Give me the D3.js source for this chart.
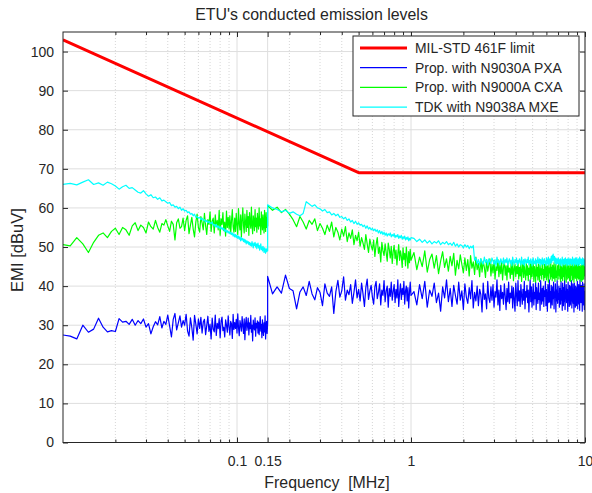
<!DOCTYPE html>
<html>
<head>
<meta charset="utf-8">
<script src="https://cdn.jsdelivr.net/npm/d3@7"></script>
<style>
  body { margin: 0; background: #fff; }
  svg text { font-family: "Liberation Sans", Arial, Helvetica, sans-serif; fill: #262626; white-space: pre; }
</style>
</head>
<body>
<div id="chart"></div>
<script>
// MIL-STD 461F limit line
var limitFreq = [0.01, 0.5, 10];
var limitLevel = [103, 69, 69];

// analyzer sweep grids (MHz): band A, band B low part, band B high part
var sweepA = { start: 0.010, step: 0.001 };
var sweepB1 = { start: 0.15, step: 0.01 };
var sweepB2 = { start: 1.04, step: 0.04 };

var xTickValues = [0.1, 0.15, 1, 10];
var xMinorValues = [0.02, 0.03, 0.04, 0.05, 0.06, 0.07, 0.08, 0.09, 0.2, 0.3, 0.4, 0.5, 0.6, 0.7, 0.8, 0.9, 2, 3, 4, 5, 6, 7, 8, 9];
var yTickValues = [0, 10, 20, 30, 40, 50, 60, 70, 80, 90, 100];

var seriesNames = ["MIL-STD 461F limit", "Prop. with N9030A PXA", "Prop. with N9000A CXA", "TDK with N9038A MXE"];
var seriesColors = ["#ff0000", "#0000ff", "#00ff00", "#00ffff"];

// Prop. with N9030A PXA (dBuV)
var pxaA = [
  27.5, 27.2, 26.5, 30.0, 28.2, 29.0, 31.8, 29.5, 28.3, 28.6,
  28.4, 31.7, 30.8, 31.0, 30.2, 31.5, 30.0, 31.2, 30.4, 31.6,
  29.5, 30.4, 27.8, 29.6, 30.9, 30.1, 32.2, 29.3, 31.0, 30.2,
  32.6, 29.8, 27.0, 31.5, 33.0, 28.8, 30.6, 32.4, 29.5, 31.2,
  30.0, 32.8, 28.5, 27.2, 31.9, 29.4, 26.2, 32.5, 30.3, 27.8,
  31.6, 29.2, 32.0, 28.0, 30.8, 31.5, 27.6, 29.9, 32.3, 28.4,
  30.2, 26.5, 31.8, 29.0, 28.3, 32.6, 27.4, 30.5, 29.1, 31.7,
  26.8, 30.9, 32.1, 28.6, 29.5, 27.0, 31.4, 30.0, 28.2, 32.4,
  29.6, 27.5, 31.0, 30.3, 26.6, 32.8, 28.9, 30.7, 29.2, 31.5,
  28.0, 32.9, 29.4, 27.3, 31.2, 30.0, 28.5, 32.2, 29.8, 27.9,
  31.6, 26.3, 30.4, 32.0, 28.7, 29.9, 31.8, 27.5, 30.6, 29.1,
  32.5, 28.2, 30.0, 26.0, 31.3, 29.6, 28.8, 31.9, 27.2, 30.5,
  29.3, 31.1, 28.0, 30.8, 27.6, 29.9, 32.2, 28.5, 30.2, 26.8,
  31.4, 29.0, 27.4, 30.6, 28.3, 32.4, 26.5, 29.8, 31.0, 27.9,
  30.5
];
var pxaB1 = [
  42.5, 38.0, 39.8, 38.2, 42.8,
  39.4, 38.8, 34.2, 38.5, 39.8, 37.6, 41.2, 38.0, 36.5, 39.6,
  38.4, 35.0, 40.6, 38.2, 37.4, 39.8, 33.0, 38.6, 41.5, 37.2,
  38.8, 42.4, 36.4, 39.0, 37.8, 40.4, 35.6, 38.4, 41.6, 37.0,
  39.2, 36.2, 40.8, 38.0, 34.8, 39.6, 41.8, 36.6, 38.8, 40.2,
  37.2, 35.4, 39.8, 41.2, 36.8, 38.4, 40.6, 35.2, 39.0, 37.6,
  41.4, 36.0, 38.8, 40.0, 34.6, 39.4, 37.4, 41.0, 36.4, 38.6,
  40.4, 35.8, 39.2, 37.0, 41.6, 34.8, 38.2, 40.6, 36.6, 39.4,
  37.8, 41.2, 35.4, 38.8, 40.0, 36.2, 39.6, 34.4, 38.4, 41.0,
  37.6
];
var pxaB2 = [
  38.6, 35.2, 40.4, 36.8, 41.2, 34.6, 39.0, 37.4, 40.8, 35.8, 38.2, 33.6, 39.8, 37.0, 41.6,
  36.0, 39.4, 34.8, 40.2, 37.6, 35.4, 41.0, 36.4, 38.8, 34.0, 40.6, 37.2, 35.6, 39.6, 36.8,
  41.4, 34.4, 38.4, 36.2, 40.0, 35.0, 39.2, 37.8, 33.4, 40.8, 36.6, 38.0, 34.2, 41.2, 37.0,
  35.8, 39.8, 36.4, 40.4, 34.6, 38.6, 37.2, 41.6, 35.2, 39.0, 33.8, 40.2, 36.8, 38.4, 35.4,
  40.6, 37.4, 34.0, 39.4, 36.0, 41.0, 35.6, 38.2, 37.0, 40.0, 34.4, 39.6, 36.6, 33.6, 40.8,
  37.8, 35.0, 41.4, 36.2, 38.8, 34.8, 40.4, 37.6, 35.4, 39.2, 36.4, 41.2, 34.2, 38.6, 37.2,
  40.2, 35.8, 39.0, 33.4, 38.0, 41.6, 36.0, 39.8, 34.6, 37.4, 40.6, 35.2, 38.4, 36.8, 41.0,
  34.0, 39.6, 37.0, 35.6, 40.8, 36.6, 38.2, 33.8, 41.4, 37.8, 35.4, 39.4, 36.2, 40.0, 34.8,
  38.8, 37.4, 41.2, 35.0, 39.2, 36.4, 33.6, 40.4, 37.6, 35.8, 41.6, 36.0, 38.6, 34.4, 40.2,
  37.0, 35.2, 39.8, 36.8, 41.0, 34.2, 38.4, 37.2, 40.6, 33.4, 39.0, 36.2, 41.4, 35.6, 38.0,
  36.6, 40.0, 34.6, 39.4, 37.8, 35.4, 41.2, 36.4, 38.8, 33.8, 40.8, 37.0, 35.0, 39.6, 36.0,
  41.6, 34.0, 38.2, 36.8, 40.4, 35.8, 39.2, 37.4, 33.6, 41.0, 36.6, 38.6, 34.8, 40.2, 37.6,
  35.2, 39.8, 36.2, 41.4, 34.4, 38.0, 37.2, 40.6, 35.6, 39.0, 33.4, 40.8, 36.4, 38.4, 34.6,
  40.0, 37.8, 35.0, 39.6, 36.0, 41.2, 34.2, 38.8, 37.0, 40.4, 35.4, 39.4, 33.8, 41.6, 36.8,
  38.2, 35.8, 40.2, 36.6, 39.0, 33.6, 41.0, 37.4, 35.2, 39.8, 36.2, 40.6, 34.0, 38.6, 37.2
];

// Prop. with N9000A CXA (dBuV)
var cxaA = [
  50.6, 50.3, 52.4, 50.8, 48.6, 51.2, 53.0, 53.6, 52.4, 54.0,
  54.8, 53.2, 55.0, 54.4, 53.0, 55.4, 56.2, 54.2, 55.6, 55.0,
  53.6, 56.4, 55.2, 54.6, 56.8, 55.0, 53.8, 56.0, 55.6, 57.0,
  55.4, 54.0, 56.6, 55.8, 51.8, 56.2, 57.2, 54.8, 55.2, 57.4,
  54.2, 56.8, 58.0, 53.4, 55.6, 57.6, 54.6, 52.6, 56.4, 58.4,
  55.0, 53.8, 57.8, 56.2, 54.4, 58.6, 55.4, 53.2, 57.0, 55.8,
  59.0, 54.0, 56.6, 57.4, 53.6, 58.2, 55.2, 56.8, 54.4, 59.4,
  53.0, 57.2, 55.8, 58.8, 54.2, 56.4, 52.8, 59.2, 55.0, 57.6,
  54.6, 58.0, 53.4, 56.8, 59.6, 55.2, 53.8, 57.4, 54.0, 58.6,
  55.6, 53.2, 59.8, 56.0, 54.4, 58.2, 52.6, 57.0, 60.0, 55.4,
  53.6, 58.4, 56.2, 54.0, 59.4, 55.0, 57.8, 53.0, 58.8, 56.4,
  54.8, 60.2, 55.6, 53.4, 58.0, 56.8, 54.2, 59.6, 55.2, 57.4,
  53.8, 58.6, 56.0, 54.6, 60.0, 55.4, 57.2, 53.2, 59.0, 56.6,
  54.4, 58.2, 55.8, 53.6, 59.4, 56.2, 54.0, 58.8, 55.0, 57.6,
  55.4
];
var cxaB1 = [
  60.6, 59.4, 60.2, 58.8, 59.6,
  58.4, 57.0, 55.2, 57.8, 56.4, 54.6, 56.8, 55.8, 57.2, 54.2,
  56.0, 54.8, 53.2, 55.6, 54.0, 56.4, 52.6, 55.0, 53.8, 51.8,
  54.6, 52.8, 55.2, 51.4, 53.6, 52.2, 54.4, 50.6, 53.0, 51.6,
  53.8, 50.2, 52.4, 51.0, 49.4, 53.2, 50.8, 48.6, 52.0, 50.4,
  49.2, 51.8, 47.6, 50.6, 52.4, 48.4, 50.0, 46.2, 51.2, 49.0,
  47.8, 50.8, 48.6, 46.4, 51.0, 49.4, 47.2, 50.2, 45.8, 48.8,
  50.4, 47.0, 49.2, 45.4, 48.2, 50.6, 46.6, 49.0, 47.6, 44.8,
  49.8, 46.8, 48.4, 45.2, 50.0, 47.4, 44.6, 48.8, 46.0, 49.4,
  46.6
];
var cxaB2 = [
  48.6, 44.2, 47.4, 45.0, 49.0, 43.6, 46.8, 48.2, 44.6, 47.8, 43.2, 46.4, 48.8, 44.8, 47.0,
  43.8, 47.6, 45.2, 48.4, 42.8, 46.6, 44.4, 48.0, 45.6, 43.4, 47.2, 44.0, 46.8, 42.6, 47.8,
  44.6, 46.2, 43.0, 47.4, 44.2, 45.8, 42.4, 47.0, 43.6, 46.4, 44.8, 42.2, 46.8, 43.8, 45.4,
  47.0, 42.6, 45.6, 43.4, 46.6, 41.8, 45.0, 44.0, 46.8, 42.4, 45.4, 43.2, 46.2, 41.6, 44.8,
  46.4, 42.8, 45.2, 41.6, 46.0, 43.6, 44.6, 42.0, 45.8, 43.0, 46.6, 41.4, 44.4, 45.6, 42.4,
  45.0, 43.2, 46.2, 41.8, 44.8, 42.6, 45.8, 41.2, 44.2, 46.4, 42.2, 45.4, 43.4, 41.6, 46.0,
  42.8, 45.2, 41.4, 44.6, 43.0, 46.0, 41.8, 45.6, 42.4, 44.0, 46.2, 41.2, 45.0, 43.6, 41.0,
  45.8, 42.6, 44.8, 41.6, 46.0, 43.2, 41.2, 45.4, 42.8, 44.4, 41.8, 46.2, 43.0, 44.2, 41.4,
  45.6, 42.2, 44.0, 46.0, 41.6, 43.8, 45.2, 42.6, 41.0, 45.8, 43.4, 44.6, 41.8, 46.2, 42.4,
  44.8, 41.4, 45.4, 43.0, 42.0, 46.0, 43.6, 41.2, 44.4, 45.6, 42.2, 43.8, 41.6, 45.2, 42.8,
  46.0, 41.8, 44.2, 42.6, 45.8, 41.2, 43.4, 45.0, 42.0, 44.6, 41.4, 46.2, 43.0, 42.4, 45.4,
  41.6, 44.8, 43.2, 45.6, 41.0, 44.0, 42.6, 46.0, 41.8, 43.6, 45.2, 42.2, 44.4, 41.4, 45.8,
  43.0, 41.2, 45.0, 42.8, 44.2, 46.2, 41.6, 43.8, 42.4, 45.4, 41.0, 44.6, 43.4, 45.8, 42.0,
  44.0, 42.6, 45.6, 41.4, 43.6, 45.2, 42.2, 44.8, 41.8, 46.0, 43.2, 42.0, 45.0, 41.6, 44.4,
  42.8, 45.4, 41.2, 44.2, 43.0, 45.8, 41.6, 43.6, 42.4, 46.0, 41.8, 44.6, 42.6, 45.2, 43.4
];

// TDK with N9038A MXE (dBuV)
var mxeA = [
  66.0, 66.3, 65.9, 66.6, 67.2, 66.0, 66.4, 65.8, 66.6, 66.2,
  65.6, 64.8, 65.4, 65.8, 65.0, 65.2, 64.6, 64.0, 63.8, 64.4,
  63.6, 63.0, 63.4, 62.6, 62.8, 62.2, 62.6, 61.8, 62.0, 61.6,
  61.2, 61.4, 60.6, 60.8, 60.2, 60.4, 59.8, 60.2, 59.4, 59.8,
  59.2, 59.4, 58.8, 59.0, 58.4, 58.6, 58.0, 58.4, 57.6, 57.8,
  57.4, 57.6, 57.0, 57.4, 56.8, 57.0, 56.4, 56.8, 56.2, 56.6,
  56.2, 56.0, 56.4, 55.6, 55.8, 55.2, 55.8, 55.0, 55.4, 54.8,
  55.2, 54.6, 55.0, 54.4, 54.8, 54.0, 54.4, 53.8, 54.2, 53.6,
  54.0, 53.4, 53.8, 53.2, 53.6, 52.8, 53.4, 52.6, 53.2, 52.4,
  53.0, 52.2, 52.8, 52.0, 52.6, 51.6, 52.4, 51.8, 52.2, 51.4,
  52.0, 51.2, 51.8, 50.8, 51.6, 51.0, 51.4, 50.6, 51.2, 50.4,
  51.0, 50.2, 51.4, 50.6, 49.8, 51.0, 50.4, 51.2, 50.0, 50.8,
  49.6, 50.6, 51.0, 49.8, 50.4, 49.2, 50.2, 50.8, 49.4, 50.0,
  49.0, 50.2, 49.6, 48.6, 49.8, 49.0, 48.4, 49.6, 48.8, 49.4,
  49.0
];
var mxeB1 = [
  60.8, 60.0, 59.6, 59.0, 59.4,
  58.6, 59.0, 58.4, 58.0, 58.6, 61.6, 61.0, 60.4, 60.8, 60.0,
  59.8, 59.2, 59.6, 58.8, 59.0, 58.2, 58.6, 58.0, 58.4, 57.6,
  57.8, 57.2, 57.6, 56.8, 57.2, 56.4, 56.8, 56.0, 56.6, 55.8,
  56.2, 55.6, 55.8, 55.2, 55.6, 54.8, 55.4, 54.6, 55.0, 54.4,
  54.8, 54.2, 54.6, 54.0, 54.4, 53.6, 54.2, 53.4, 54.0, 53.2,
  53.8, 53.0, 53.6, 52.8, 53.4, 53.0, 53.6, 52.6, 53.2, 52.8,
  53.4, 52.4, 53.0, 52.6, 53.2, 52.2, 52.8, 52.4, 53.0, 52.0,
  52.6, 52.2, 52.8, 51.8, 52.4, 52.0, 52.6, 51.6, 52.2, 51.8,
  52.4
];
var mxeB2 = [
  52.2, 51.4, 52.0, 51.2, 51.8, 51.0, 51.6, 50.8, 51.4, 51.0, 51.6, 50.6, 51.2, 50.8, 51.4,
  50.6, 51.0, 50.4, 51.2, 50.2, 50.8, 50.0, 50.6, 50.4, 49.8, 50.6, 50.0, 50.4, 49.6, 50.2,
  49.8, 50.4, 46.6, 47.2, 45.8, 46.8, 45.4, 47.0, 46.2, 45.6, 47.4, 46.0, 46.8, 45.4, 47.0,
  46.2, 45.8, 47.2, 46.4, 45.6, 46.8, 45.2, 47.4, 46.0, 46.6, 45.4, 47.0, 46.2, 45.8, 47.2,
  45.6, 46.8, 46.0, 47.2, 45.4, 46.4, 47.0, 45.8, 46.6, 45.2, 47.4, 46.2, 45.6, 46.8, 46.0,
  47.2, 45.4, 46.6, 45.8, 47.0, 46.2, 45.4, 47.4, 46.0, 45.6, 46.8, 45.2, 47.0, 46.4, 45.8,
  46.8, 46.0, 47.4, 45.4, 46.6, 45.8, 47.0, 46.2, 45.2, 46.8, 47.2, 45.6, 46.4, 45.8, 47.0,
  45.4, 46.6, 46.0, 47.4, 45.8, 46.2, 47.0, 45.2, 46.8, 46.4, 45.6, 47.2, 46.0, 45.4, 46.8,
  47.0, 45.8, 46.4, 45.2, 47.2, 46.6, 45.6, 46.8, 47.4, 45.4, 46.2, 47.0, 45.8, 46.6, 47.6,
  46.0, 47.8, 46.6, 48.2, 47.2, 46.4, 47.6, 45.8, 46.8, 47.2, 45.6, 46.6, 47.0, 45.8, 46.4,
  47.2, 45.6, 46.8, 46.2, 45.4, 47.0, 46.0, 46.6, 45.2, 47.4, 46.2, 45.8, 46.8, 45.4, 47.0,
  46.4, 45.6, 47.2, 46.0, 45.8, 46.8, 45.2, 47.0, 46.4, 45.6, 46.6, 47.2, 45.4, 46.2, 46.8,
  45.8, 47.0, 46.2, 45.4, 46.8, 46.0, 47.4, 45.6, 46.4, 45.2, 47.0, 46.6, 45.8, 46.2, 47.2,
  45.4, 46.8, 46.0, 47.2, 45.6, 46.4, 45.2, 46.8, 47.0, 45.8, 46.2, 45.4, 47.4, 46.0, 46.6,
  45.8, 47.0, 46.2, 45.4, 46.8, 45.6, 47.2, 46.0, 45.4, 46.6, 47.0, 45.8, 46.4, 45.2, 46.8
];

function init() {
    var width = 592, height = 493;
    var margin = { top: 32, right: 7, bottom: 50.5, left: 63 };
    var w = width - margin.left - margin.right;
    var h = height - margin.top - margin.bottom;

    // put each level on its sweep frequency
    function trace(parts) {
        var pts = [];
        parts.forEach(function(p) {
            p[1].forEach(function(v, i) {
                pts.push({ f: p[0].start + i * p[0].step, v: v });
            });
        });
        return pts;
    }

    var limit = limitFreq.map(function(f, i) { return { f: f, v: limitLevel[i] }; });
    var pxa = trace([[sweepA, pxaA], [sweepB1, pxaB1], [sweepB2, pxaB2]]);
    var cxa = trace([[sweepA, cxaA], [sweepB1, cxaB1], [sweepB2, cxaB2]]);
    var mxe = trace([[sweepA, mxeA], [sweepB1, mxeB1], [sweepB2, mxeB2]]);
    var traces = [limit, pxa, cxa, mxe];

    var xScale = d3.scaleLog().domain([0.01, 10]).range([0, w]);
    var yScale = d3.scaleLinear().domain([0, 105]).range([h, 0]);

    var svg = d3.select("#chart")
        .append("svg")
        .attr("width", width)
        .attr("height", height);

    var g = svg.append("g")
        .attr("transform", "translate(" + margin.left + "," + margin.top + ")");

    // grid
    g.append("g")
        .selectAll("line")
        .data(xMinorValues)
        .enter()
        .append("line")
        .attr("x1", function(d) { return xScale(d); })
        .attr("x2", function(d) { return xScale(d); })
        .attr("y1", 0)
        .attr("y2", h)
        .attr("stroke", "#c4c4c4")
        .attr("stroke-width", 0.7)
        .attr("stroke-dasharray", "1,2");

    g.append("g")
        .selectAll("line")
        .data(xTickValues)
        .enter()
        .append("line")
        .attr("x1", function(d) { return xScale(d); })
        .attr("x2", function(d) { return xScale(d); })
        .attr("y1", 0)
        .attr("y2", h)
        .attr("stroke", "#dedede")
        .attr("stroke-width", 1);

    g.append("g")
        .selectAll("line")
        .data(yTickValues)
        .enter()
        .append("line")
        .attr("x1", 0)
        .attr("x2", w)
        .attr("y1", function(d) { return yScale(d); })
        .attr("y2", function(d) { return yScale(d); })
        .attr("stroke", "#dedede")
        .attr("stroke-width", 1);

    // data lines
    g.append("clipPath")
        .attr("id", "plot-clip")
        .append("rect")
        .attr("width", w)
        .attr("height", h);

    var line = d3.line()
        .x(function(d) { return xScale(d.f); })
        .y(function(d) { return yScale(d.v); });

    g.append("g")
        .attr("clip-path", "url(#plot-clip)")
        .selectAll("path")
        .data(traces)
        .enter()
        .append("path")
        .attr("d", line)
        .attr("fill", "none")
        .attr("stroke", function(d, i) { return seriesColors[i]; })
        .attr("stroke-width", function(d, i) { return i === 0 ? 3 : 1.2; })
        .attr("stroke-linejoin", "round");

    // axes (ticks point inward, as in the original)
    function styleAxis(sel) {
        sel.select(".domain").remove();
        sel.selectAll("line").attr("stroke", "#262626");
        sel.selectAll("text").style("font-size", "14px").attr("fill", "#262626");
    }

    g.append("g")
        .attr("transform", "translate(0," + h + ")")
        .call(d3.axisBottom(xScale).tickValues(xTickValues).tickFormat(d3.format("")).tickSize(-5).tickPadding(14))
        .call(styleAxis);
    g.append("g")
        .attr("transform", "translate(0," + h + ")")
        .call(d3.axisBottom(xScale).tickValues(xMinorValues).tickFormat("").tickSize(-3))
        .call(styleAxis);
    g.append("g")
        .call(d3.axisTop(xScale).tickValues(xTickValues).tickFormat("").tickSize(-5))
        .call(styleAxis);
    g.append("g")
        .call(d3.axisTop(xScale).tickValues(xMinorValues).tickFormat("").tickSize(-3))
        .call(styleAxis);
    g.append("g")
        .call(d3.axisLeft(yScale).tickValues(yTickValues).tickSize(-5).tickPadding(9))
        .call(styleAxis);
    g.append("g")
        .attr("transform", "translate(" + w + ",0)")
        .call(d3.axisRight(yScale).tickValues(yTickValues).tickFormat("").tickSize(-5))
        .call(styleAxis);

    // box
    g.append("rect")
        .attr("width", w)
        .attr("height", h)
        .attr("fill", "none")
        .attr("stroke", "#262626")
        .attr("stroke-width", 1);

    // title and labels
    svg.append("text")
        .attr("x", 311.5)
        .attr("y", 20)
        .attr("text-anchor", "middle")
        .style("font-size", "15.9px")
        .text("ETU's conducted emission levels");

    svg.append("text")
        .attr("x", 327)
        .attr("y", 488)
        .attr("text-anchor", "middle")
        .style("font-size", "15.9px")
        .text("Frequency  [MHz]");

    svg.append("text")
        .attr("transform", "translate(23,250) rotate(-90)")
        .attr("text-anchor", "middle")
        .style("font-size", "16.6px")
        .text("EMI [dBuV]");

    // legend
    var legend = svg.append("g")
        .attr("transform", "translate(353,36)");

    legend.append("rect")
        .attr("width", 226)
        .attr("height", 80)
        .attr("fill", "#fff")
        .attr("stroke", "#262626")
        .attr("stroke-width", 1);

    var item = legend.selectAll(".legend")
        .data(seriesNames)
        .enter()
        .append("g")
        .attr("class", "legend")
        .attr("transform", function(d, i) {
            return "translate(0," + (12 + i * 19.7) + ")";
        });

    item.append("line")
        .attr("x1", 7)
        .attr("x2", 54)
        .attr("stroke", function(d, i) { return seriesColors[i]; })
        .attr("stroke-width", function(d, i) { return i === 0 ? 3 : 1.2; });

    item.append("text")
        .attr("x", 62)
        .attr("dy", "0.35em")
        .style("font-size", "13.9px")
        .text(function(d) { return d; });
}

window.onload = init;
</script>
</body>
</html>
